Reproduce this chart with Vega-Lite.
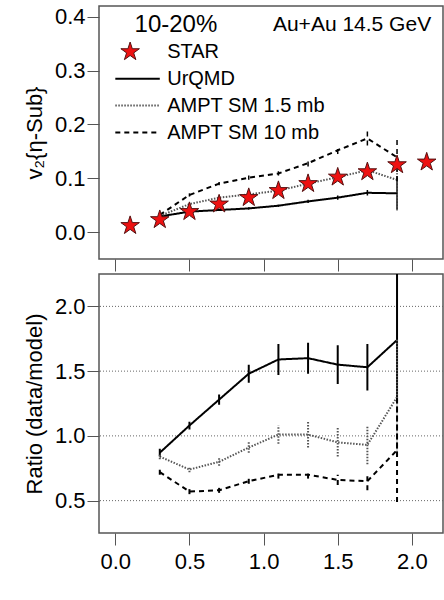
{
  "$schema": "https://vega.github.io/schema/vega-lite/v6.json",
  "padding": {"left": 22, "top": 5, "right": 3, "bottom": 0},
  "background": "white",
  "config": {
    "font": "Liberation Sans",
    "view": {"stroke": "#555", "strokeWidth": 1.5},
    "concat": {"spacing": 0},
    "axis": {
      "grid": false, "domain": false, "tickSize": 12, "tickOffset": 0, "tickColor": "#555", "tickWidth": 1,
      "labelFontSize": 22, "labelColor": "black", "titleFontSize": 22, "titleFontWeight": "normal", "titleColor": "black"
    }
  },
  "datasets": {
    "top": [
      {"series": "STAR", "x": 0.1, "y": 0.012},
      {"series": "STAR", "x": 0.3, "y": 0.023},
      {"series": "STAR", "x": 0.5, "y": 0.038},
      {"series": "STAR", "x": 0.7, "y": 0.052},
      {"series": "STAR", "x": 0.9, "y": 0.064},
      {"series": "STAR", "x": 1.1, "y": 0.077},
      {"series": "STAR", "x": 1.3, "y": 0.090},
      {"series": "STAR", "x": 1.5, "y": 0.102},
      {"series": "STAR", "x": 1.7, "y": 0.112},
      {"series": "STAR", "x": 1.9, "y": 0.125},
      {"series": "STAR", "x": 2.1, "y": 0.130},
      {"series": "UrQMD", "x": 0.3, "y": 0.029, "lo": 0.027, "hi": 0.031},
      {"series": "UrQMD", "x": 0.5, "y": 0.038, "lo": 0.036, "hi": 0.040},
      {"series": "UrQMD", "x": 0.7, "y": 0.041, "lo": 0.039, "hi": 0.043},
      {"series": "UrQMD", "x": 0.9, "y": 0.044, "lo": 0.042, "hi": 0.046},
      {"series": "UrQMD", "x": 1.1, "y": 0.049, "lo": 0.047, "hi": 0.051},
      {"series": "UrQMD", "x": 1.3, "y": 0.057, "lo": 0.054, "hi": 0.060},
      {"series": "UrQMD", "x": 1.5, "y": 0.064, "lo": 0.060, "hi": 0.068},
      {"series": "UrQMD", "x": 1.7, "y": 0.073, "lo": 0.068, "hi": 0.078},
      {"series": "UrQMD", "x": 1.9, "y": 0.072, "lo": 0.042, "hi": 0.102},
      {"series": "AMPT SM 1.5 mb", "x": 0.3, "y": 0.030, "lo": 0.028, "hi": 0.032},
      {"series": "AMPT SM 1.5 mb", "x": 0.5, "y": 0.052, "lo": 0.049, "hi": 0.055},
      {"series": "AMPT SM 1.5 mb", "x": 0.7, "y": 0.064, "lo": 0.061, "hi": 0.067},
      {"series": "AMPT SM 1.5 mb", "x": 0.9, "y": 0.070, "lo": 0.066, "hi": 0.074},
      {"series": "AMPT SM 1.5 mb", "x": 1.1, "y": 0.077, "lo": 0.072, "hi": 0.082},
      {"series": "AMPT SM 1.5 mb", "x": 1.3, "y": 0.090, "lo": 0.085, "hi": 0.095},
      {"series": "AMPT SM 1.5 mb", "x": 1.5, "y": 0.102, "lo": 0.096, "hi": 0.108},
      {"series": "AMPT SM 1.5 mb", "x": 1.7, "y": 0.115, "lo": 0.106, "hi": 0.124},
      {"series": "AMPT SM 1.5 mb", "x": 1.9, "y": 0.097, "lo": 0.040, "hi": 0.125},
      {"series": "AMPT SM 10 mb", "x": 0.3, "y": 0.032, "lo": 0.030, "hi": 0.034},
      {"series": "AMPT SM 10 mb", "x": 0.5, "y": 0.069, "lo": 0.066, "hi": 0.072},
      {"series": "AMPT SM 10 mb", "x": 0.7, "y": 0.090, "lo": 0.087, "hi": 0.093},
      {"series": "AMPT SM 10 mb", "x": 0.9, "y": 0.101, "lo": 0.097, "hi": 0.105},
      {"series": "AMPT SM 10 mb", "x": 1.1, "y": 0.109, "lo": 0.105, "hi": 0.113},
      {"series": "AMPT SM 10 mb", "x": 1.3, "y": 0.128, "lo": 0.122, "hi": 0.134},
      {"series": "AMPT SM 10 mb", "x": 1.5, "y": 0.152, "lo": 0.145, "hi": 0.159},
      {"series": "AMPT SM 10 mb", "x": 1.7, "y": 0.174, "lo": 0.161, "hi": 0.187},
      {"series": "AMPT SM 10 mb", "x": 1.9, "y": 0.139, "lo": 0.095, "hi": 0.175}
    ],
    "ratio": [
      {"series": "UrQMD", "x": 0.3, "y": 0.87, "lo": 0.84, "hi": 0.90},
      {"series": "UrQMD", "x": 0.5, "y": 1.08, "lo": 1.05, "hi": 1.11},
      {"series": "UrQMD", "x": 0.7, "y": 1.28, "lo": 1.24, "hi": 1.32},
      {"series": "UrQMD", "x": 0.9, "y": 1.48, "lo": 1.41, "hi": 1.55},
      {"series": "UrQMD", "x": 1.1, "y": 1.59, "lo": 1.47, "hi": 1.71},
      {"series": "UrQMD", "x": 1.3, "y": 1.60, "lo": 1.48, "hi": 1.72},
      {"series": "UrQMD", "x": 1.5, "y": 1.55, "lo": 1.40, "hi": 1.70},
      {"series": "UrQMD", "x": 1.7, "y": 1.53, "lo": 1.35, "hi": 1.71},
      {"series": "UrQMD", "x": 1.9, "y": 1.74, "lo": 1.25, "hi": 2.25},
      {"series": "AMPT SM 1.5 mb", "x": 0.3, "y": 0.84, "lo": 0.82, "hi": 0.86},
      {"series": "AMPT SM 1.5 mb", "x": 0.5, "y": 0.74, "lo": 0.72, "hi": 0.76},
      {"series": "AMPT SM 1.5 mb", "x": 0.7, "y": 0.80, "lo": 0.77, "hi": 0.83},
      {"series": "AMPT SM 1.5 mb", "x": 0.9, "y": 0.91, "lo": 0.87, "hi": 0.95},
      {"series": "AMPT SM 1.5 mb", "x": 1.1, "y": 1.01, "lo": 0.94, "hi": 1.08},
      {"series": "AMPT SM 1.5 mb", "x": 1.3, "y": 1.01, "lo": 0.91, "hi": 1.11},
      {"series": "AMPT SM 1.5 mb", "x": 1.5, "y": 0.95, "lo": 0.84, "hi": 1.06},
      {"series": "AMPT SM 1.5 mb", "x": 1.7, "y": 0.93, "lo": 0.78, "hi": 1.08},
      {"series": "AMPT SM 1.5 mb", "x": 1.9, "y": 1.30, "lo": 0.85, "hi": 1.75},
      {"series": "AMPT SM 10 mb", "x": 0.3, "y": 0.72, "lo": 0.70, "hi": 0.74},
      {"series": "AMPT SM 10 mb", "x": 0.5, "y": 0.57, "lo": 0.55, "hi": 0.59},
      {"series": "AMPT SM 10 mb", "x": 0.7, "y": 0.58, "lo": 0.56, "hi": 0.60},
      {"series": "AMPT SM 10 mb", "x": 0.9, "y": 0.65, "lo": 0.63, "hi": 0.67},
      {"series": "AMPT SM 10 mb", "x": 1.1, "y": 0.70, "lo": 0.67, "hi": 0.73},
      {"series": "AMPT SM 10 mb", "x": 1.3, "y": 0.70, "lo": 0.67, "hi": 0.73},
      {"series": "AMPT SM 10 mb", "x": 1.5, "y": 0.66, "lo": 0.62, "hi": 0.70},
      {"series": "AMPT SM 10 mb", "x": 1.7, "y": 0.65, "lo": 0.58, "hi": 0.72},
      {"series": "AMPT SM 10 mb", "x": 1.9, "y": 0.89, "lo": 0.49, "hi": 1.29}
    ],
    "legend": [
      {"series": "UrQMD", "x": 0.0, "y": 0.285},
      {"series": "UrQMD", "x": 0.3, "y": 0.285},
      {"series": "AMPT SM 1.5 mb", "x": 0.0, "y": 0.235},
      {"series": "AMPT SM 1.5 mb", "x": 0.3, "y": 0.235},
      {"series": "AMPT SM 10 mb", "x": 0.0, "y": 0.185},
      {"series": "AMPT SM 10 mb", "x": 0.3, "y": 0.185}
    ],
    "labels": [
      {"label": "STAR", "x": 0.35, "y": 0.335},
      {"label": "UrQMD", "x": 0.35, "y": 0.285},
      {"label": "AMPT SM 1.5 mb", "x": 0.35, "y": 0.235},
      {"label": "AMPT SM 10 mb", "x": 0.35, "y": 0.185}
    ],
    "legendstar": [{"x": 0.1, "y": 0.335}]
  },
  "vconcat": [
    {
      "width": 344,
      "height": 253,
      "layer": [
        {
          "data": {"name": "top"},
          "transform": [{"filter": "datum.series != 'STAR'"}],
          "mark": {"type": "line", "strokeWidth": 2},
          "encoding": {
            "x": {"field": "x", "type": "quantitative", "scale": {"domain": [-0.11, 2.21], "nice": false},
              "axis": {"labels": false, "title": null, "values": [0, 0.5, 1, 1.5, 2]}},
            "y": {"field": "y", "type": "quantitative", "scale": {"domain": [-0.05, 0.42], "nice": false},
              "axis": {"values": [0, 0.1, 0.2, 0.3, 0.4], "format": ".1f", "title": "v₂{η-Sub}", "titlePadding": 8}},
            "detail": {"field": "series"},
            "color": {"field": "series", "type": "nominal", "legend": null,
              "scale": {"domain": ["UrQMD", "AMPT SM 1.5 mb", "AMPT SM 10 mb"], "range": ["black", "#555", "black"]}},
            "strokeDash": {"field": "series", "type": "nominal", "legend": null,
              "scale": {"domain": ["UrQMD", "AMPT SM 1.5 mb", "AMPT SM 10 mb"], "range": [[1, 0], [1.5, 1.5], [5, 4]]}}
          }
        },
        {
          "data": {"name": "top"},
          "transform": [{"filter": "datum.series != 'STAR'"}],
          "mark": {"type": "rule", "strokeWidth": 1.5},
          "encoding": {
            "x": {"field": "x", "type": "quantitative"},
            "y": {"field": "lo", "type": "quantitative"},
            "y2": {"field": "hi"},
            "color": {"field": "series", "type": "nominal", "legend": null},
            "strokeDash": {"field": "series", "type": "nominal", "legend": null}
          }
        },
        {
          "data": {"name": "legend"},
          "mark": {"type": "line", "strokeWidth": 2},
          "encoding": {
            "x": {"field": "x", "type": "quantitative"},
            "y": {"field": "y", "type": "quantitative"},
            "detail": {"field": "series"},
            "color": {"field": "series", "type": "nominal", "legend": null},
            "strokeDash": {"field": "series", "type": "nominal", "legend": null}
          }
        },
        {
          "data": {"name": "top"},
          "transform": [{"filter": "datum.series == 'STAR'"}],
          "mark": {"type": "point", "filled": true, "fill": "#ee1111", "stroke": "#551111", "strokeWidth": 1, "size": 380,
            "shape": "M0,-1L0.2245,-0.309L0.951,-0.309L0.363,0.118L0.588,0.809L0,0.382L-0.588,0.809L-0.363,0.118L-0.951,-0.309L-0.2245,-0.309Z", "opacity": 1},
          "encoding": {
            "x": {"field": "x", "type": "quantitative"},
            "y": {"field": "y", "type": "quantitative"}
          }
        },
        {
          "data": {"name": "legendstar"},
          "mark": {"type": "point", "filled": true, "fill": "#ee1111", "stroke": "#551111", "strokeWidth": 1, "size": 380,
            "shape": "M0,-1L0.2245,-0.309L0.951,-0.309L0.363,0.118L0.588,0.809L0,0.382L-0.588,0.809L-0.363,0.118L-0.951,-0.309L-0.2245,-0.309Z", "opacity": 1},
          "encoding": {
            "x": {"field": "x", "type": "quantitative"},
            "y": {"field": "y", "type": "quantitative"}
          }
        },
        {
          "data": {"name": "labels"},
          "mark": {"type": "text", "baseline": "middle", "align": "left", "color": "black", "fontSize": 20},
          "encoding": {
            "x": {"field": "x", "type": "quantitative"},
            "y": {"field": "y", "type": "quantitative"},
            "text": {"field": "label"}
          }
        },
        {
          "data": {"values": [{"label": "10-20%", "x": 0.13, "y": 0.385}]},
          "mark": {"type": "text", "baseline": "middle", "align": "left", "color": "black", "fontSize": 24},
          "encoding": {
            "x": {"field": "x", "type": "quantitative"},
            "y": {"field": "y", "type": "quantitative"},
            "text": {"field": "label"}
          }
        },
        {
          "data": {"values": [{"label": "Au+Au 14.5 GeV", "x": 2.13, "y": 0.385}]},
          "mark": {"type": "text", "baseline": "middle", "align": "right", "color": "black", "fontSize": 21},
          "encoding": {
            "x": {"field": "x", "type": "quantitative"},
            "y": {"field": "y", "type": "quantitative"},
            "text": {"field": "label"}
          }
        }
      ]
    },
    {
      "width": 344,
      "height": 259,
      "layer": [
        {
          "data": {"values": [{"g": 0.5}, {"g": 1.0}, {"g": 1.5}, {"g": 2.0}]},
          "mark": {"type": "rule", "strokeDash": [1, 2], "color": "#666", "strokeWidth": 1},
          "encoding": {"y": {"field": "g", "type": "quantitative", "scale": {"domain": [0.25, 2.25], "nice": false}}}
        },
        {
          "data": {"name": "ratio"},
          "mark": {"type": "line", "strokeWidth": 2},
          "encoding": {
            "x": {"field": "x", "type": "quantitative", "scale": {"domain": [-0.11, 2.21], "nice": false},
              "axis": {"values": [0, 0.5, 1, 1.5, 2], "format": ".1f", "title": null, "labelPadding": 6}},
            "y": {"field": "y", "type": "quantitative",
              "axis": {"values": [0.5, 1, 1.5, 2], "format": ".1f", "title": "Ratio (data/model)", "titlePadding": 8}},
            "detail": {"field": "series"},
            "color": {"field": "series", "type": "nominal", "legend": null,
              "scale": {"domain": ["UrQMD", "AMPT SM 1.5 mb", "AMPT SM 10 mb"], "range": ["black", "#555", "black"]}},
            "strokeDash": {"field": "series", "type": "nominal", "legend": null,
              "scale": {"domain": ["UrQMD", "AMPT SM 1.5 mb", "AMPT SM 10 mb"], "range": [[1, 0], [1.5, 1.5], [5, 4]]}}
          }
        },
        {
          "data": {"name": "ratio"},
          "mark": {"type": "rule", "strokeWidth": 2, "clip": true},
          "encoding": {
            "x": {"field": "x", "type": "quantitative"},
            "y": {"field": "lo", "type": "quantitative"},
            "y2": {"field": "hi"},
            "color": {"field": "series", "type": "nominal", "legend": null},
            "strokeDash": {"field": "series", "type": "nominal", "legend": null}
          }
        }
      ]
    }
  ]
}
